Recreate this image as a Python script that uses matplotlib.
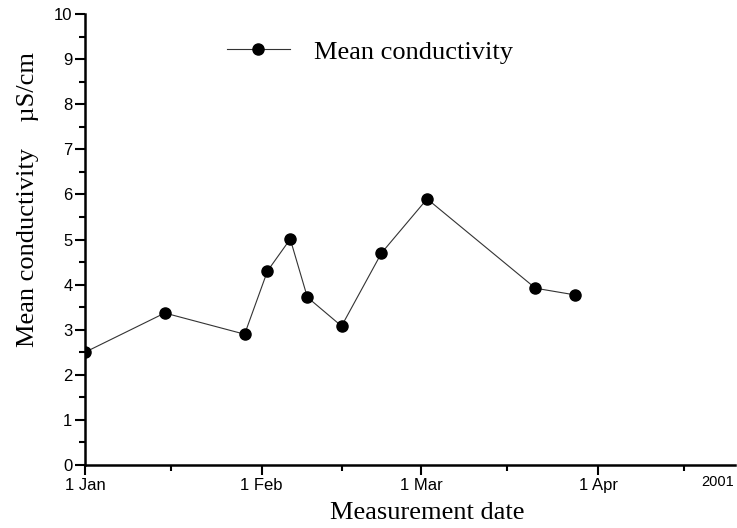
import matplotlib
matplotlib.use("Agg")
import matplotlib.pyplot as plt
import numpy as np
import datetime as dt

# measurement dates and mean conductivity (uS/cm)
dates = ["2001-01-01", "2001-01-15", "2001-01-29", "2001-02-02", "2001-02-06",
         "2001-02-09", "2001-02-15", "2001-02-22", "2001-03-02", "2001-03-21",
         "2001-03-28"]
conductivity = [2.50, 3.37, 2.90, 4.30, 5.01, 3.72, 3.08, 4.70, 5.90, 3.92, 3.77]

month_ticks = ["2001-01-01", "2001-02-01", "2001-03-01", "2001-04-01"]
month_labels = ["1 Jan", "1 Feb", "1 Mar", "1 Apr"]
mid_ticks = ["2001-01-16", "2001-02-15", "2001-03-16", "2001-04-16"]

x = [dt.datetime.strptime(d, "%Y-%m-%d") for d in dates]
mt = [dt.datetime.strptime(d, "%Y-%m-%d") for d in month_ticks]
mid = [dt.datetime.strptime(d, "%Y-%m-%d") for d in mid_ticks]

fig = plt.figure(figsize=(7.37, 5.28), dpi=100)
ax = fig.add_axes([0.1153, 0.1193, 0.882, 0.8542])

ax.plot(x, conductivity, color="#333333", lw=0.8, marker="o", ms=8,
        mfc="black", mec="black", label="Mean conductivity")

ax.set_xlim(dt.datetime(2001, 1, 1), dt.datetime(2001, 4, 25))
ax.set_ylim(0, 10)

ax.set_xticks(mt)
ax.set_xticklabels(month_labels)
ax.set_xticks(mid, minor=True)
ax.set_yticks(np.arange(0, 11, 1))
ax.set_yticks(np.arange(0.5, 10, 1), minor=True)

for s in ["top", "right"]:
    ax.spines[s].set_visible(False)
for s in ["left", "bottom"]:
    ax.spines[s].set_linewidth(1.8)

ax.tick_params(which="major", length=7, width=1.5, direction="out",
               labelsize=12, pad=2)
ax.tick_params(which="minor", length=4, width=1.5, direction="out")
for lab in ax.get_xticklabels() + ax.get_yticklabels():
    lab.set_fontfamily("Liberation Sans")

# truncated year label at right end of axis
ax.text(dt.datetime(2001, 4, 22), -0.23, "2001", ha="center", va="top",
        fontsize=10.5, family="Liberation Sans")

ax.set_xlabel("Measurement date", family="Liberation Serif", fontsize=19,
              labelpad=0)
ax.xaxis.set_label_coords(0.526, -0.083)
ax.set_ylabel("Mean conductivity    \u00b5S/cm", family="Liberation Serif",
              fontsize=19)
ax.yaxis.set_label_coords(-0.07, 0.588)

leg = ax.legend(loc="upper left", bbox_to_anchor=(0.218, 0.942), frameon=False,
                prop={"family": "Liberation Serif", "size": 19},
                handlelength=2.4, handletextpad=0.9, numpoints=1,
                borderpad=0, borderaxespad=0)

fig.savefig("out.png", dpi=100)
